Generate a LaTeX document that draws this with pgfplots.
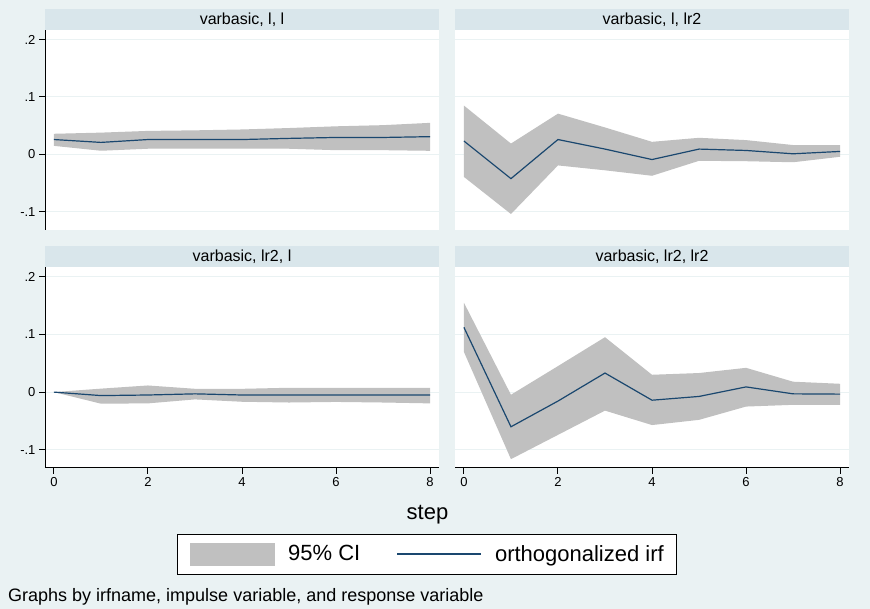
\documentclass[border=0pt]{standalone}
\usepackage{pgfplots}
\pgfplotsset{compat=1.18}
\usepackage{fontspec}
\setmainfont{Liberation Sans}
\definecolor{bgcol}{RGB}{234,242,243}
\definecolor{stripcol}{RGB}{217,230,235}
\definecolor{gridcol}{RGB}{234,242,243}
\definecolor{cigray}{RGB}{192,192,192}
\definecolor{irfnavy}{RGB}{26,71,111}

% orthogonalized irf
\pgfplotstableread{
x irf
0 0.026
1 0.021
2 0.026
3 0.026
4 0.026
5 0.028
6 0.0296
7 0.0296
8 0.031
}\irfll
\pgfplotstableread{
x irf
0 0.0234
1 -0.042
2 0.026
3 0.0094
4 -0.0088
5 0.0094
6 0.007
7 0.0012
8 0.0053
}\irflr
\pgfplotstableread{
x irf
0 0
1 -0.006
2 -0.005
3 -0.003
4 -0.005
5 -0.005
6 -0.005
7 -0.005
8 -0.005
}\irfrl
\pgfplotstableread{
x irf
0 0.112
1 -0.060
2 -0.0155
3 0.033
4 -0.014
5 -0.0075
6 0.009
7 -0.003
8 -0.0035
}\irfrr
% 95% CI bands: upper bound 0..8, then lower bound 8..0
\pgfplotstableread{
x y
0 0.036
1 0.038
2 0.041
3 0.042
4 0.0435
5 0.046
6 0.049
7 0.051
8 0.055
8 0.0064
7 0.0075
6 0.0075
5 0.010
4 0.010
3 0.010
2 0.010
1 0.0065
0 0.015
}\cill
\pgfplotstableread{
x y
0 0.085
1 0.019
2 0.071
3 0.047
4 0.022
5 0.029
6 0.025
7 0.0164
8 0.0164
8 -0.004
7 -0.0135
6 -0.0117
5 -0.011
4 -0.037
3 -0.0275
2 -0.019
1 -0.1035
0 -0.039
}\cilr
\pgfplotstableread{
x y
0 0
1 0.006
2 0.0115
3 0.0057
4 0.0057
5 0.0075
6 0.0075
7 0.0075
8 0.0075
8 -0.0195
7 -0.018
6 -0.017
5 -0.018
4 -0.0167
3 -0.0126
2 -0.0195
1 -0.020
0 0
}\cirl
\pgfplotstableread{
x y
0 0.1546
1 -0.0046
2 0.045
3 0.095
4 0.030
5 0.033
6 0.042
7 0.018
8 0.0144
8 -0.022
7 -0.022
6 -0.025
5 -0.048
4 -0.057
3 -0.032
2 -0.074
1 -0.116
0 0.0695
}\cirr

\pgfplotsset{
  irfpanel/.style={
    scale only axis, width=394pt,
    xmin=-0.19, xmax=8.19, ymin=-0.1313, ymax=0.2165,
    axis background/.style={fill=white},
    axis line style={draw=none},
    ymajorgrids, grid style={gridcol, line width=1pt},
    ytick={-0.1,0,0.1,0.2},
    yticklabels={-.1,0,.1,.2},
    xtick={0,2,4,6,8},
    xticklabels={0,2,4,6,8},
    tick align=outside, major tick length=6pt,
    tick style={black, line width=1pt},
    xtick pos=left, ytick pos=left,
    tick label style={font=\fontsize{13}{15}\selectfont},
    /pgf/number format/assume math mode=true,
  },
  toprow/.style={height=200pt, xtick=\empty},
  botrow/.style={height=201pt},
  rightcol/.style={yticklabels={}, y tick style={draw=none}},
}

\newcommand{\panel}[2]{%
  \addplot[fill=cigray, draw=none,
    legend image code/.code={\fill[cigray] (0pt,-11.5pt) rectangle (85pt,11.5pt);}]
    table[x=x, y=y] {#1};
  \addplot[irfnavy, line width=1.2pt,
    legend image code/.code={\draw[irfnavy, line width=1.7pt] (0pt,0pt) -- (84pt,0pt);}]
    table[x=x, y=irf] {#2};
}

\begin{document}
\begin{tikzpicture}
\fill[bgcol] (0pt,0pt) rectangle (870pt,609pt);

% top-left
\begin{axis}[irfpanel, toprow, at={(45pt,379pt)}, anchor=south west, name=tl]
  \panel{\cill}{\irfll}
  \draw[black, line width=1pt] (rel axis cs:0,0) -- (rel axis cs:0,1);
\end{axis}
% top-right
\begin{axis}[irfpanel, toprow, rightcol, at={(455pt,379pt)}, anchor=south west, name=tr]
  \panel{\cilr}{\irflr}
\end{axis}
% bottom-left
\begin{axis}[irfpanel, botrow, at={(45pt,141pt)}, anchor=south west, name=bl,
  legend style={at={(0.9695,-0.4279)}, anchor=center, draw=black, line width=1pt,
    fill=white, legend columns=2, inner xsep=12.5pt, inner ysep=8.5pt,
    font=\fontsize{22}{26}\selectfont,
    nodes={inner sep=0pt},
    /tikz/every odd column/.append style={column sep=13pt},
    /tikz/every even column/.append style={column sep=36pt}}]
  \panel{\cirl}{\irfrl}
  \draw[black, line width=1pt] (rel axis cs:0,0) -- (rel axis cs:0,1);
  \draw[black, line width=1pt] (rel axis cs:0,0) -- (rel axis cs:1,0);
  \legend{95\% CI, orthogonalized irf}
\end{axis}
% bottom-right
\begin{axis}[irfpanel, botrow, rightcol, at={(455pt,141pt)}, anchor=south west, name=br]
  \panel{\cirr}{\irfrr}
  \draw[black, line width=1pt] (rel axis cs:0,0) -- (rel axis cs:1,0);
\end{axis}

% strips
\fill[stripcol] (45pt,579pt) rectangle (439pt,600pt);
\fill[stripcol] (455pt,579pt) rectangle (849pt,600pt);
\fill[stripcol] (45pt,342pt) rectangle (439pt,363pt);
\fill[stripcol] (455pt,342pt) rectangle (849pt,363pt);
\node[font=\fontsize{16}{19}\selectfont, inner sep=0pt] at (242pt,589.5pt) {varbasic, l, l};
\node[font=\fontsize{16}{19}\selectfont, inner sep=0pt] at (652pt,589.5pt) {varbasic, l, lr2};
\node[font=\fontsize{16}{19}\selectfont, inner sep=0pt] at (242pt,352.5pt) {varbasic, lr2, l};
\node[font=\fontsize{16}{19}\selectfont, inner sep=0pt] at (652pt,352.5pt) {varbasic, lr2, lr2};

\node[font=\fontsize{22}{26}\selectfont, anchor=base, inner sep=0pt] at (427.5pt,89pt) {step};
\node[font=\fontsize{18}{21}\selectfont, anchor=base west, inner sep=0pt] at (8pt,7.5pt) {Graphs by irfname, impulse variable, and response variable};
\end{tikzpicture}
\end{document}
